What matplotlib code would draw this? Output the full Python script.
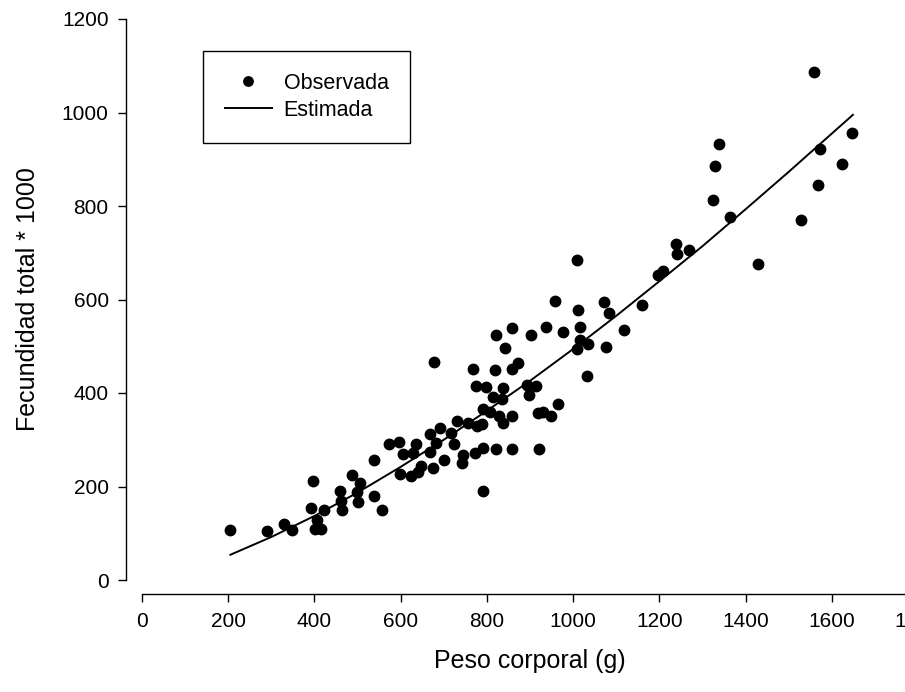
import matplotlib
matplotlib.use("Agg")
import matplotlib.pyplot as plt

plt.rcParams['font.family'] = ['Liberation Sans', 'DejaVu Sans']

# Observed points: body weight (g) vs total fecundity * 1000
peso_obs = [204, 289, 329, 347, 397, 392, 423, 405, 401, 415,
            459, 461, 463, 488, 505, 498, 502, 539, 556, 539,
            573, 597, 606, 598, 623, 635, 629, 641, 648,
            668, 668, 674, 683, 691, 701, 678,
            716, 724, 730, 743, 744, 757, 768, 772, 774, 776, 788, 791, 791, 791,
            799, 807, 815, 818, 820, 822, 827, 834, 838, 838, 843,
            858, 859, 859, 859, 873,
            892, 898, 903, 915, 919, 920, 931, 938, 948, 958, 964, 977,
            1008, 1009, 1012, 1016, 1017, 1033, 1035,
            1072, 1077, 1084, 1118, 1159, 1197, 1209,
            1238, 1240, 1269,
            1325, 1329, 1338, 1363, 1428, 1528, 1558, 1568, 1573, 1623, 1648]
fec_obs = [107, 105, 120, 107, 212, 153, 150, 128, 109, 109,
           190, 170, 150, 224, 208, 188, 166, 180, 150, 256,
           291, 296, 269, 227, 222, 291, 271, 231, 243,
           312, 273, 240, 293, 325, 256, 467,
           315, 290, 340, 251, 268, 335, 452, 271, 416, 330, 333, 366, 282, 191,
           412, 360, 392, 449, 524, 280, 350, 388, 410, 335, 497,
           538, 451, 351, 280, 465,
           417, 395, 523, 414, 357, 281, 360, 541, 350, 597, 376, 530,
           685, 494, 577, 514, 542, 437, 504,
           594, 498, 571, 535, 589, 653, 660,
           718, 697, 705,
           813, 886, 932, 776, 676, 770, 1086, 845, 921, 890, 956]

# Estimated curve
peso_est = [205, 300, 400, 500, 600, 700, 800, 900, 1000, 1100, 1200, 1300, 1400, 1500, 1649]
fec_est = [54, 92, 137, 187, 242, 300, 362, 426, 494, 565, 639, 714, 793, 873, 995]

x_ticks = [0, 200, 400, 600, 800, 1000, 1200, 1400, 1600, 1800]
y_ticks = [0, 200, 400, 600, 800, 1000, 1200]

W, H = 905, 692
fig = plt.figure(figsize=(W / 100, H / 100), dpi=100)
ax = fig.add_axes([142 / W, (H - 580) / H, 776 / W, 561 / H])

ax.plot(peso_obs, fec_obs, 'o', color='black', markersize=7.5,
        linestyle='none', label='Observada', clip_on=False)
ax.plot(peso_est, fec_est, '-', color='black', linewidth=1.4, label='Estimada')

ax.set_xlim(0, 1800)
ax.set_ylim(0, 1200)
ax.set_xticks(x_ticks)
ax.set_yticks(y_ticks)

for side in ['top', 'right']:
    ax.spines[side].set_visible(False)
ax.spines['left'].set_position(('outward', 11.5))
ax.spines['bottom'].set_position(('outward', 9.8))
ax.spines['left'].set_linewidth(1.0)
ax.spines['bottom'].set_linewidth(1.0)

ax.tick_params(axis='both', direction='out', length=5.5, width=1.0,
               labelsize=15, colors='black')
ax.tick_params(axis='x', pad=8)
ax.tick_params(axis='y', pad=7)

ax.set_xlabel('Peso corporal (g)', fontsize=18, labelpad=13)
ax.set_ylabel('Fecundidad total * 1000', fontsize=18, labelpad=16)

leg = ax.legend(loc='upper left', bbox_to_anchor=(203 / W, 1 - 51 / H),
                bbox_transform=fig.transFigure, fontsize=15.5, frameon=True,
                fancybox=False, edgecolor='black', framealpha=1,
                handlelength=2.2, handletextpad=0.55, labelspacing=0.3,
                borderpad=1.0, borderaxespad=0, numpoints=1, markerscale=0.9)
leg.get_frame().set_linewidth(1.0)

fig.savefig('out.png', dpi=100)
